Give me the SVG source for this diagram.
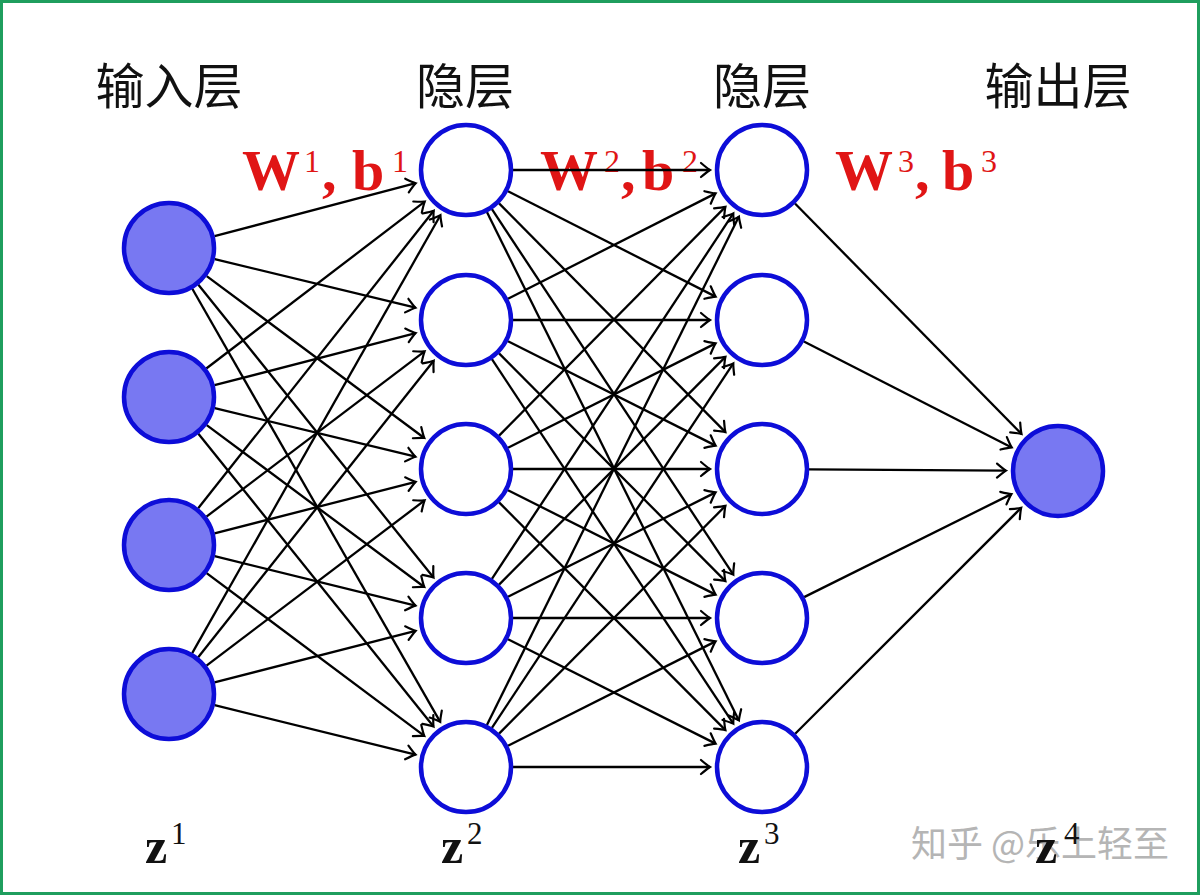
<svg xmlns="http://www.w3.org/2000/svg" width="1200" height="895" viewBox="0 0 1200 895">
<defs>
<style>
.head{font-family:"Noto Sans CJK SC","Noto Sans",sans-serif;font-size:49px;fill:#111;text-anchor:middle}
.wb{font-family:"Liberation Serif",serif;font-size:58px;font-weight:bold;fill:#e01515}
.sup{font-size:32px;font-weight:normal}
.zl{font-family:"Liberation Serif",serif;font-size:50px;font-weight:bold;fill:#111}
.zs{font-size:31px;font-weight:normal}
.edges line{stroke:#000;stroke-width:2.3;marker-end:url(#arr)}
.nd{stroke:#0d0dd8;stroke-width:4.5}
.in{fill:#7878f2}
.hid{fill:#fff}
.wm{font-family:"Noto Sans CJK SC",sans-serif;font-size:36px;fill:#b5b5b5}
</style>
<marker id="arr" viewBox="-12 -10 14 20" markerWidth="14" markerHeight="20" refX="0" refY="0" orient="auto" markerUnits="userSpaceOnUse" overflow="visible">
<path d="M-9,-7 Q-2.5,-1.5 0,0 Q-2.5,1.5 -9,7" fill="none" stroke="#000" stroke-width="2.2" stroke-linecap="round"/>
</marker>
</defs>
<rect x="0" y="0" width="1200" height="895" fill="#fff"/>
<rect x="1.5" y="1.5" width="1197" height="892" fill="none" stroke="#1f9e5e" stroke-width="3"/>

<g id="headings">
<text class="head" x="169" y="104">输入层</text>
<text class="head" x="465" y="104">隐层</text>
<text class="head" x="762" y="104">隐层</text>
<text class="head" x="1058" y="104">输出层</text>
</g>

<g id="weights">
<text class="wb" y="190"><tspan x="242">W</tspan><tspan class="sup" x="304" y="172">1</tspan><tspan x="322" y="190">,</tspan><tspan x="352" y="190">b</tspan><tspan class="sup" x="392" y="172">1</tspan></text>
<text class="wb" y="190"><tspan x="540">W</tspan><tspan class="sup" x="604" y="172">2</tspan><tspan x="621" y="190">,</tspan><tspan x="642" y="190">b</tspan><tspan class="sup" x="682" y="172">2</tspan></text>
<text class="wb" y="190"><tspan x="835">W</tspan><tspan class="sup" x="898" y="172">3</tspan><tspan x="915" y="190">,</tspan><tspan x="942" y="190">b</tspan><tspan class="sup" x="981" y="172">3</tspan></text>
</g>

<g id="connectors" class="edges">
<line x1="214.5" y1="236.1" x2="415.7" y2="183.2"/>
<line x1="214.7" y1="259.1" x2="415.5" y2="307.7"/>
<line x1="206.7" y1="276.1" x2="424.3" y2="438.0"/>
<line x1="198.4" y1="284.7" x2="433.5" y2="577.5"/>
<line x1="192.3" y1="288.8" x2="440.2" y2="721.9"/>
<line x1="206.3" y1="368.5" x2="424.7" y2="201.6"/>
<line x1="214.5" y1="385.2" x2="415.7" y2="333.1"/>
<line x1="214.7" y1="408.1" x2="415.5" y2="456.7"/>
<line x1="206.7" y1="425.1" x2="424.3" y2="587.0"/>
<line x1="198.4" y1="433.7" x2="433.5" y2="726.5"/>
<line x1="198.2" y1="508.2" x2="433.7" y2="210.8"/>
<line x1="206.5" y1="516.6" x2="424.6" y2="351.4"/>
<line x1="214.5" y1="533.3" x2="415.6" y2="481.9"/>
<line x1="214.6" y1="556.2" x2="415.5" y2="605.6"/>
<line x1="206.6" y1="573.1" x2="424.3" y2="735.9"/>
<line x1="192.2" y1="653.1" x2="440.4" y2="215.2"/>
<line x1="198.2" y1="657.2" x2="433.7" y2="360.7"/>
<line x1="206.5" y1="665.6" x2="424.6" y2="500.4"/>
<line x1="214.5" y1="682.3" x2="415.6" y2="630.9"/>
<line x1="214.6" y1="705.2" x2="415.5" y2="754.6"/>

<line x1="513" y1="170" x2="710" y2="170"/>
<line x1="508.0" y1="191.2" x2="715.6" y2="296.6"/>
<line x1="499.1" y1="203.4" x2="725.4" y2="432.1"/>
<line x1="491.9" y1="209.2" x2="733.3" y2="574.6"/>
<line x1="486.9" y1="212.1" x2="738.9" y2="720.4"/>
<line x1="508.0" y1="298.8" x2="715.6" y2="193.4"/>
<line x1="513" y1="320" x2="710" y2="320"/>
<line x1="508.0" y1="341.2" x2="715.6" y2="445.6"/>
<line x1="499.1" y1="353.4" x2="725.4" y2="581.1"/>
<line x1="491.9" y1="359.2" x2="733.3" y2="723.6"/>
<line x1="499.1" y1="435.6" x2="725.4" y2="206.9"/>
<line x1="508.0" y1="447.8" x2="715.6" y2="343.4"/>
<line x1="513" y1="469" x2="710" y2="469"/>
<line x1="508.0" y1="490.2" x2="715.6" y2="594.6"/>
<line x1="499.1" y1="502.4" x2="725.4" y2="730.1"/>
<line x1="491.9" y1="578.8" x2="733.3" y2="213.4"/>
<line x1="499.1" y1="584.6" x2="725.4" y2="356.9"/>
<line x1="508.0" y1="596.8" x2="715.6" y2="492.4"/>
<line x1="513" y1="618" x2="710" y2="618"/>
<line x1="508.0" y1="639.2" x2="715.6" y2="743.6"/>
<line x1="486.9" y1="724.9" x2="738.9" y2="216.6"/>
<line x1="491.9" y1="727.8" x2="733.3" y2="363.4"/>
<line x1="499.1" y1="733.6" x2="725.4" y2="505.9"/>
<line x1="508.0" y1="745.8" x2="715.6" y2="641.4"/>
<line x1="513" y1="767" x2="710" y2="767"/>

<line x1="795.0" y1="203.5" x2="1021.5" y2="433.9"/>
<line x1="803.9" y1="341.4" x2="1011.7" y2="447.4"/>
<line x1="809" y1="469.3" x2="1006" y2="470.6"/>
<line x1="804.1" y1="597.1" x2="1011.4" y2="494.1"/>
<line x1="795.2" y1="733.8" x2="1021.2" y2="507.8"/>
</g>

<g id="input-1"><circle class="nd in" cx="169" cy="248" r="45"/></g>
<g id="input-2"><circle class="nd in" cx="169" cy="397" r="45"/></g>
<g id="input-3"><circle class="nd in" cx="169" cy="545" r="45"/></g>
<g id="input-4"><circle class="nd in" cx="169" cy="694" r="45"/></g>

<g id="hidden1-1"><circle class="nd hid" cx="466" cy="170" r="45"/></g>
<g id="hidden1-2"><circle class="nd hid" cx="466" cy="320" r="45"/></g>
<g id="hidden1-3"><circle class="nd hid" cx="466" cy="469" r="45"/></g>
<g id="hidden1-4"><circle class="nd hid" cx="466" cy="618" r="45"/></g>
<g id="hidden1-5"><circle class="nd hid" cx="466" cy="767" r="45"/></g>

<g id="hidden2-1"><circle class="nd hid" cx="762" cy="170" r="45"/></g>
<g id="hidden2-2"><circle class="nd hid" cx="762" cy="320" r="45"/></g>
<g id="hidden2-3"><circle class="nd hid" cx="762" cy="469" r="45"/></g>
<g id="hidden2-4"><circle class="nd hid" cx="762" cy="618" r="45"/></g>
<g id="hidden2-5"><circle class="nd hid" cx="762" cy="767" r="45"/></g>

<g id="output-1"><circle class="nd in" cx="1058" cy="471" r="45"/></g>

<g id="layer-labels">
<text class="zl" x="145" y="863">z<tspan class="zs" x="171" y="844">1</tspan></text>
<text class="zl" x="441" y="863">z<tspan class="zs" x="467" y="844">2</tspan></text>
<text class="zl" x="738" y="863">z<tspan class="zs" x="764" y="844">3</tspan></text>
<text class="wm" x="911" y="857">知乎 @乐上轻至</text>
<text class="zl" x="1035" y="863">z<tspan class="zs" x="1064" y="844">4</tspan></text>
</g>
</svg>
